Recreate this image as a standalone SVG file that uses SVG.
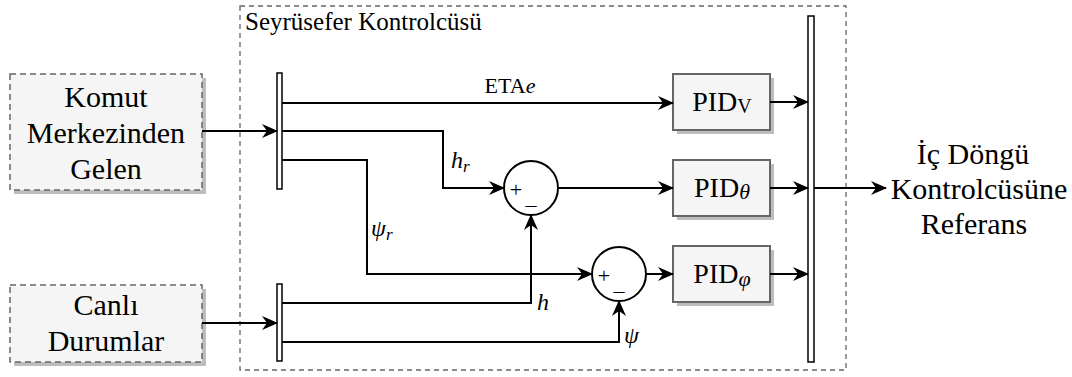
<svg xmlns="http://www.w3.org/2000/svg" width="1072" height="377" viewBox="0 0 1072 377">
<defs>
<marker id="arr" viewBox="0 0 16 14" refX="15" refY="7" markerWidth="16" markerHeight="14" markerUnits="userSpaceOnUse" orient="auto">
<path d="M0,0 L16,7 L0,14 L5,7 Z" fill="#000"/>
</marker>
</defs>

<g id="container">
<rect x="240" y="6" width="606" height="364" fill="none" stroke="#666" stroke-width="1.3" stroke-dasharray="5 4"/>
<text x="245" y="30" font-size="25" font-family="Times New Roman">Seyrüsefer Kontrolcüsü</text>
</g>

<g id="komut">
<rect fill="#bdbdbd" x="14" y="78" width="192" height="116"/>
<rect fill="#f5f5f5" stroke="#666" stroke-width="1.5" stroke-dasharray="6 4" x="10" y="74" width="192" height="116"/>
<text x="106" y="107" font-size="30" text-anchor="middle" font-family="Times New Roman">Komut</text>
<text x="106" y="143" font-size="30" text-anchor="middle" font-family="Times New Roman">Merkezinden</text>
<text x="106" y="179" font-size="30" text-anchor="middle" font-family="Times New Roman">Gelen</text>
</g>

<g id="canli">
<rect fill="#bdbdbd" x="14" y="289" width="192" height="77"/>
<rect fill="#f5f5f5" stroke="#666" stroke-width="1.5" stroke-dasharray="6 4" x="10" y="285" width="192" height="77"/>
<text x="106" y="315" font-size="30" text-anchor="middle" font-family="Times New Roman">Canlı</text>
<text x="106" y="351" font-size="30" text-anchor="middle" font-family="Times New Roman">Durumlar</text>
</g>

<g id="bar1"><rect fill="#fff" stroke="#000" stroke-width="1.5" x="277" y="73" width="5" height="116"/></g>
<g id="bar2"><rect fill="#fff" stroke="#000" stroke-width="1.5" x="277" y="284" width="5" height="77"/></g>
<g id="bar3"><rect fill="#fff" stroke="#000" stroke-width="1.5" x="808" y="16" width="6" height="346"/></g>

<g id="sum1">
<circle fill="#fff" stroke="#000" stroke-width="2" cx="531" cy="188" r="27"/>
<text x="516" y="197" font-size="22" text-anchor="middle" font-family="Times New Roman">+</text>
<text x="531" y="204" font-size="22" text-anchor="middle" font-family="Times New Roman">_</text>
</g>
<g id="sum2">
<circle fill="#fff" stroke="#000" stroke-width="2" cx="619" cy="274" r="27"/>
<text x="604" y="283" font-size="22" text-anchor="middle" font-family="Times New Roman">+</text>
<text x="619" y="290" font-size="22" text-anchor="middle" font-family="Times New Roman">_</text>
</g>

<g id="pidv">
<rect fill="#bdbdbd" x="677" y="78" width="97" height="56"/>
<rect fill="#f5f5f5" stroke="#666" stroke-width="2" x="673" y="74" width="97" height="56"/>
<text x="722" y="111" font-size="28" text-anchor="middle" font-family="Times New Roman">PID<tspan font-size="20" dy="2">V</tspan></text>
</g>
<g id="pidtheta">
<rect fill="#bdbdbd" x="677" y="164" width="97" height="56"/>
<rect fill="#f5f5f5" stroke="#666" stroke-width="2" x="673" y="160" width="97" height="56"/>
<text x="722" y="197" font-size="28" text-anchor="middle" font-family="Times New Roman">PID<tspan font-style="italic" font-size="22" dy="2">θ</tspan></text>
</g>
<g id="pidphi">
<rect fill="#bdbdbd" x="677" y="250" width="97" height="56"/>
<rect fill="#f5f5f5" stroke="#666" stroke-width="2" x="673" y="246" width="97" height="56"/>
<text x="722" y="283" font-size="28" text-anchor="middle" font-family="Times New Roman">PID<tspan font-style="italic" font-size="22" dy="3">φ</tspan></text>
</g>

<g id="output">
<text x="973" y="164" font-size="30" text-anchor="middle" font-family="Times New Roman">İç Döngü</text>
<text x="979" y="199" font-size="30" text-anchor="middle" font-family="Times New Roman">Kontrolcüsüne</text>
<text x="974" y="234" font-size="30" text-anchor="middle" font-family="Times New Roman">Referans</text>
</g>

<g id="connectors" fill="none" stroke="#000" stroke-width="2">
<path d="M202,131 H277" marker-end="url(#arr)"/>
<path d="M202,323 H277" marker-end="url(#arr)"/>
<path d="M282,103 H673" marker-end="url(#arr)"/>
<path d="M282,131 H443 V188 H504" marker-end="url(#arr)"/>
<path d="M282,160 H367 V274 H592" marker-end="url(#arr)"/>
<path d="M282,303 H531 V215" marker-end="url(#arr)"/>
<path d="M282,342 H619 V301" marker-end="url(#arr)"/>
<path d="M558,188 H673" marker-end="url(#arr)"/>
<path d="M646,274 H673" marker-end="url(#arr)"/>
<path d="M770,102 H808" marker-end="url(#arr)"/>
<path d="M770,188 H808" marker-end="url(#arr)"/>
<path d="M770,274 H808" marker-end="url(#arr)"/>
<path d="M814,188 H886" marker-end="url(#arr)"/>
</g>
<g id="labels" fill="#000">
<text x="510" y="93" font-size="22" text-anchor="middle" font-family="Times New Roman">ETA<tspan font-style="italic">e</tspan></text>
<text x="451" y="168" font-size="24" font-style="italic" font-family="Times New Roman">h<tspan font-size="17" dy="4">r</tspan></text>
<text x="371" y="236" font-size="24" font-style="italic" font-family="Times New Roman">ψ<tspan font-size="17" dy="4">r</tspan></text>
<text x="537" y="310" font-size="24" font-style="italic" font-family="Times New Roman">h</text>
<text x="624" y="343" font-size="24" font-style="italic" font-family="Times New Roman">ψ</text>
</g>
</svg>
